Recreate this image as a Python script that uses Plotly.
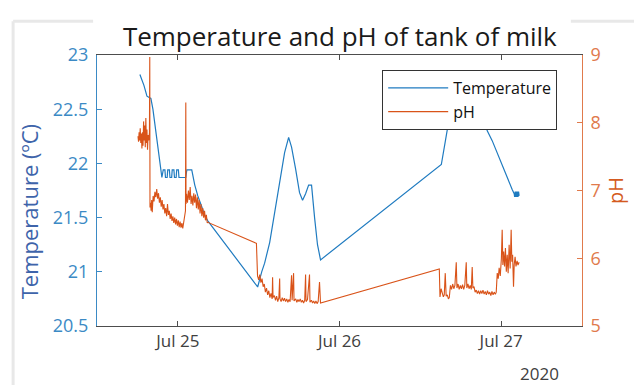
import plotly.graph_objects as go

# ---------------- data ----------------
temp_time = [
    "2020-07-24 18:22", "2020-07-24 18:58", "2020-07-24 19:25", "2020-07-24 20:00",
    "2020-07-24 20:18", "2020-07-24 20:44", "2020-07-24 21:11", "2020-07-24 21:38",
    "2020-07-24 21:50", "2020-07-24 22:05", "2020-07-24 22:10", "2020-07-24 22:25",
    "2020-07-24 22:30", "2020-07-24 22:45", "2020-07-24 22:50", "2020-07-24 23:05",
    "2020-07-24 23:10", "2020-07-24 23:25", "2020-07-24 23:30", "2020-07-24 23:45",
    "2020-07-24 23:50", "2020-07-25 00:05", "2020-07-25 00:10", "2020-07-25 01:11",
    "2020-07-25 01:20", "2020-07-25 02:04", "2020-07-25 02:31", "2020-07-25 02:58",
    "2020-07-25 03:33", "2020-07-25 04:00", "2020-07-25 04:27", "2020-07-25 11:51",
    "2020-07-25 12:27", "2020-07-25 12:53", "2020-07-25 13:38", "2020-07-25 14:22",
    "2020-07-25 15:07", "2020-07-25 15:51", "2020-07-25 16:27", "2020-07-25 16:53",
    "2020-07-25 17:29", "2020-07-25 18:04", "2020-07-25 18:31", "2020-07-25 18:58",
    "2020-07-25 19:25", "2020-07-25 19:51", "2020-07-25 20:18", "2020-07-25 20:44",
    "2020-07-25 21:11", "2020-07-26 15:07", "2020-07-26 15:42", "2020-07-26 16:18",
    "2020-07-26 17:11", "2020-07-26 18:31", "2020-07-26 20:00", "2020-07-26 21:20",
    "2020-07-26 21:56", "2020-07-26 22:40", "2020-07-26 23:42", "2020-07-27 00:27",
    "2020-07-27 01:11", "2020-07-27 01:38", "2020-07-27 01:56", "2020-07-27 02:00",
    "2020-07-27 02:05", "2020-07-27 02:10", "2020-07-27 02:15", "2020-07-27 02:20",
    "2020-07-27 02:25", "2020-07-27 02:30", "2020-07-27 02:35", "2020-07-27 02:40",
]
temp_val = [
    22.82, 22.72, 22.62, 22.60,
    22.50, 22.30, 22.05, 21.87,
    21.94, 21.94, 21.87, 21.87,
    21.94, 21.94, 21.87, 21.87,
    21.94, 21.94, 21.87, 21.87,
    21.94, 21.94, 21.87, 21.87,
    21.94, 21.94, 21.80, 21.70,
    21.60, 21.52, 21.47, 20.86,
    21.00, 21.08, 21.27, 21.55,
    21.85, 22.10, 22.24, 22.15,
    21.95, 21.73, 21.66, 21.72,
    21.80, 21.80, 21.50, 21.25,
    21.11, 21.99, 22.20, 22.42,
    22.62, 22.75, 22.70, 22.42,
    22.30, 22.21, 22.05, 21.93,
    21.82, 21.76, 21.72, 21.69,
    21.74, 21.69, 21.74, 21.69,
    21.74, 21.69, 21.74, 21.70,
]

ph_time = [
    # Jul 24 evening
    "2020-07-24 18:05", "2020-07-24 18:10", "2020-07-24 18:15", "2020-07-24 18:20",
    "2020-07-24 18:25", "2020-07-24 18:30", "2020-07-24 18:35", "2020-07-24 18:40",
    "2020-07-24 18:45", "2020-07-24 18:50", "2020-07-24 18:55", "2020-07-24 19:00",
    "2020-07-24 19:05", "2020-07-24 19:10", "2020-07-24 19:15", "2020-07-24 19:20",
    "2020-07-24 19:25", "2020-07-24 19:30", "2020-07-24 19:35", "2020-07-24 19:40",
    "2020-07-24 19:47", "2020-07-24 19:50", "2020-07-24 19:52",
    "2020-07-24 19:57", "2020-07-24 20:02", "2020-07-24 20:07", "2020-07-24 20:12",
    "2020-07-24 20:20", "2020-07-24 20:28", "2020-07-24 20:36", "2020-07-24 20:44",
    "2020-07-24 20:52", "2020-07-24 21:00", "2020-07-24 21:08", "2020-07-24 21:16",
    "2020-07-24 21:24", "2020-07-24 21:32", "2020-07-24 21:40", "2020-07-24 21:48",
    "2020-07-24 21:56", "2020-07-24 22:04", "2020-07-24 22:12", "2020-07-24 22:20",
    "2020-07-24 22:28", "2020-07-24 22:36", "2020-07-24 22:44", "2020-07-24 22:52",
    "2020-07-24 23:00", "2020-07-24 23:08", "2020-07-24 23:16", "2020-07-24 23:24",
    "2020-07-24 23:32", "2020-07-24 23:40", "2020-07-24 23:48", "2020-07-24 23:56",
    "2020-07-25 00:04", "2020-07-25 00:12", "2020-07-25 00:20", "2020-07-25 00:28",
    "2020-07-25 00:36", "2020-07-25 00:44", "2020-07-25 00:52", "2020-07-25 01:00",
    "2020-07-25 01:08", "2020-07-25 01:11", "2020-07-25 01:13",
    # Jul 25 early morning
    "2020-07-25 01:18", "2020-07-25 01:26", "2020-07-25 01:34", "2020-07-25 01:42",
    "2020-07-25 01:50", "2020-07-25 01:58", "2020-07-25 02:06", "2020-07-25 02:14",
    "2020-07-25 02:22", "2020-07-25 02:30", "2020-07-25 02:38", "2020-07-25 02:46",
    "2020-07-25 02:54", "2020-07-25 03:02", "2020-07-25 03:10", "2020-07-25 03:18",
    "2020-07-25 03:26", "2020-07-25 03:34", "2020-07-25 03:42", "2020-07-25 03:50",
    "2020-07-25 03:58", "2020-07-25 04:06", "2020-07-25 04:14", "2020-07-25 04:22",
    "2020-07-25 04:27",
    # Jul 25 midday to evening
    "2020-07-25 11:40", "2020-07-25 11:45",
    "2020-07-25 11:50", "2020-07-25 12:00", "2020-07-25 12:10", "2020-07-25 12:20",
    "2020-07-25 12:30", "2020-07-25 12:40", "2020-07-25 12:50", "2020-07-25 13:00",
    "2020-07-25 13:10", "2020-07-25 13:20", "2020-07-25 13:30", "2020-07-25 13:40",
    "2020-07-25 13:50", "2020-07-25 14:00", "2020-07-25 14:04", "2020-07-25 14:08",
    "2020-07-25 14:20", "2020-07-25 14:30", "2020-07-25 14:40", "2020-07-25 14:50",
    "2020-07-25 15:00", "2020-07-25 15:07", "2020-07-25 15:10", "2020-07-25 15:20",
    "2020-07-25 15:30", "2020-07-25 15:40", "2020-07-25 15:50", "2020-07-25 16:00",
    "2020-07-25 16:10", "2020-07-25 16:20", "2020-07-25 16:30", "2020-07-25 16:40",
    "2020-07-25 16:53", "2020-07-25 16:58", "2020-07-25 17:11", "2020-07-25 17:15",
    "2020-07-25 17:30", "2020-07-25 17:40", "2020-07-25 17:50", "2020-07-25 18:00",
    "2020-07-25 18:10", "2020-07-25 18:20", "2020-07-25 18:30", "2020-07-25 18:40",
    "2020-07-25 18:50", "2020-07-25 18:58", "2020-07-25 19:02", "2020-07-25 19:15",
    "2020-07-25 19:33", "2020-07-25 19:37", "2020-07-25 19:50", "2020-07-25 20:00",
    "2020-07-25 20:10", "2020-07-25 20:20", "2020-07-25 20:30", "2020-07-25 20:40",
    "2020-07-25 20:50", "2020-07-25 21:02", "2020-07-25 21:06", "2020-07-25 21:11",
    # Jul 26 afternoon to Jul 27
    "2020-07-26 14:49", "2020-07-26 14:55",
    "2020-07-26 15:05", "2020-07-26 15:16", "2020-07-26 15:25", "2020-07-26 15:33",
    "2020-07-26 15:42", "2020-07-26 15:50", "2020-07-26 16:00", "2020-07-26 16:10",
    "2020-07-26 16:18", "2020-07-26 16:28", "2020-07-26 16:38", "2020-07-26 16:48",
    "2020-07-26 16:58", "2020-07-26 17:08", "2020-07-26 17:20", "2020-07-26 17:26",
    "2020-07-26 17:36", "2020-07-26 17:46", "2020-07-26 17:56", "2020-07-26 18:06",
    "2020-07-26 18:16", "2020-07-26 18:26", "2020-07-26 18:36", "2020-07-26 18:49",
    "2020-07-26 18:54", "2020-07-26 19:04", "2020-07-26 19:14", "2020-07-26 19:24",
    "2020-07-26 19:34", "2020-07-26 19:42", "2020-07-26 19:48", "2020-07-26 19:58",
    "2020-07-26 20:08", "2020-07-26 20:18", "2020-07-26 20:28", "2020-07-26 20:38",
    "2020-07-26 20:48", "2020-07-26 20:58", "2020-07-26 21:08", "2020-07-26 21:18",
    "2020-07-26 21:28", "2020-07-26 21:38", "2020-07-26 21:48", "2020-07-26 21:58",
    "2020-07-26 22:08", "2020-07-26 22:18", "2020-07-26 22:28", "2020-07-26 22:38",
    "2020-07-26 22:48", "2020-07-26 22:58", "2020-07-26 23:08", "2020-07-26 23:16",
    "2020-07-26 23:25", "2020-07-26 23:34", "2020-07-26 23:42", "2020-07-26 23:52",
    "2020-07-27 00:02", "2020-07-27 00:09", "2020-07-27 00:15", "2020-07-27 00:22",
    "2020-07-27 00:30", "2020-07-27 00:38", "2020-07-27 00:46", "2020-07-27 00:54",
    "2020-07-27 01:02", "2020-07-27 01:11", "2020-07-27 01:20", "2020-07-27 01:29",
    "2020-07-27 01:35", "2020-07-27 01:42", "2020-07-27 01:50", "2020-07-27 01:56",
    "2020-07-27 02:04", "2020-07-27 02:12", "2020-07-27 02:22", "2020-07-27 02:30",
    "2020-07-27 02:40",
]
ph_val = [
    7.80, 7.72, 7.86, 7.74,
    7.92, 7.70, 7.84, 7.62,
    7.86, 7.66, 8.02, 7.74,
    7.96, 7.64, 8.07, 7.70,
    7.90, 7.60, 7.82, 7.74,
    7.85, 8.97, 6.75,
    6.82, 6.70, 6.86, 6.68,
    6.92, 6.84, 6.98, 6.90,
    7.02, 6.88, 6.96, 6.82,
    6.90, 6.76, 6.86, 6.72,
    6.80, 6.66, 6.74, 6.62,
    6.80, 6.64, 6.70, 6.58,
    6.66, 6.55, 6.62, 6.52,
    6.60, 6.50, 6.58, 6.48,
    6.56, 6.46, 6.54, 6.45,
    6.52, 6.44, 6.55, 6.62,
    6.70, 8.30, 6.80,
    6.95, 6.82, 7.00, 6.86,
    7.05, 6.80, 6.92, 6.78,
    6.96, 6.82, 6.94, 6.74,
    6.90, 6.72, 6.86, 6.66,
    6.80, 6.62, 6.74, 6.60,
    6.70, 6.56, 6.64, 6.52,
    6.53,
    6.22, 5.80,
    5.74, 5.68, 5.76, 5.64,
    5.70, 5.58, 5.62, 5.50,
    5.56, 5.46, 5.52, 5.42,
    5.48, 5.40, 5.72, 5.42,
    5.45, 5.38, 5.44, 5.36,
    5.42, 5.70, 5.40, 5.36,
    5.42, 5.37, 5.41, 5.36,
    5.40, 5.35, 5.39, 5.36,
    5.75, 5.38, 5.78, 5.37,
    5.40, 5.35, 5.39, 5.36,
    5.40, 5.35, 5.38, 5.34,
    5.38, 5.76, 5.36, 5.39,
    5.76, 5.35, 5.38, 5.34,
    5.37, 5.33, 5.37, 5.33,
    5.36, 5.65, 5.35, 5.34,
    5.84, 5.43,
    5.55, 5.50, 5.43, 5.46,
    5.78, 5.44, 5.46, 5.40,
    5.42, 5.60, 5.54, 5.62,
    5.55, 5.60, 5.94, 5.56,
    5.62, 5.54, 5.60, 5.55,
    5.61, 5.54, 5.60, 5.94,
    5.56, 5.62, 5.55, 5.60,
    5.54, 5.87, 5.56, 5.58,
    5.50, 5.53, 5.48, 5.52,
    5.47, 5.52, 5.48, 5.53,
    5.47, 5.51, 5.46, 5.52,
    5.47, 5.50, 5.45, 5.51,
    5.46, 5.50, 5.47, 5.50,
    5.78, 5.70, 5.86, 5.74,
    6.00, 6.42, 5.90, 6.10,
    5.88, 6.15, 5.80, 6.05,
    5.78, 6.20, 5.85, 6.42,
    5.95, 6.05, 5.58, 5.90,
    6.02, 5.88, 5.96, 5.90,
    5.94,
]

x_tick_vals = ["2020-07-25", "2020-07-26", "2020-07-27"]
x_tick_text = ["Jul 25", "Jul 26", "Jul 27"]
x_range = ["2020-07-24 12:00", "2020-07-27 12:00"]
temp_range = [20.5, 23]
ph_range = [5, 9]

# ---------------- styles ----------------
FONT = "Open Sans"
BLUE = "#1f7bc0"
BLUE_AX = "#3b8ac5"
ORANGE = "#D95319"
ORANGE_AX = "#e07a4c"
GREY = "#404040"

fig = go.Figure()
fig.add_trace(go.Scatter(x=temp_time, y=temp_val, name="Temperature", mode="lines",
                         line=dict(color=BLUE, width=1.2), yaxis="y"))
fig.add_trace(go.Scatter(x=ph_time, y=ph_val, name="pH", mode="lines",
                         line=dict(color=ORANGE, width=1.1), yaxis="y2"))

fig.update_layout(
    width=634, height=385,
    margin=dict(l=97, r=52, t=55, b=59),
    paper_bgcolor="white", plot_bgcolor="white",
    font=dict(family=FONT, color=GREY),
    title=dict(text="Temperature and pH of tank of milk", x=0.536, y=0.903,
               xanchor="center", yanchor="middle", xref="container", yref="container",
               font=dict(family=FONT, size=26, color="#1a1a1a")),
    xaxis=dict(type="date", range=x_range, tickvals=x_tick_vals, ticktext=x_tick_text,
               showgrid=False, zeroline=False, showline=True, linecolor="#4d4d4d",
               linewidth=1, mirror="ticks", ticks="inside", ticklen=5, tickcolor="#4d4d4d",
               tickfont=dict(size=17, color=GREY, family=FONT)),
    yaxis=dict(range=temp_range, dtick=0.5, showgrid=False, zeroline=False,
               showline=True, linecolor=BLUE_AX, linewidth=1, ticks="inside", ticklen=5,
               tickcolor=BLUE_AX, tickfont=dict(size=18, color=BLUE_AX, family=FONT),
               ticklabelstandoff=4),
    yaxis2=dict(range=ph_range, dtick=1, overlaying="y", side="right", showgrid=False,
                zeroline=False, showline=True, linecolor=ORANGE_AX, linewidth=1,
                ticks="inside", ticklen=5, tickcolor=ORANGE_AX,
                tickfont=dict(size=18, color=ORANGE_AX, family=FONT), ticklabelstandoff=4),
    legend=dict(x=0.588, y=0.945, xanchor="left", yanchor="top", bgcolor="white",
                bordercolor="#333333", borderwidth=1, itemwidth=60,
                font=dict(size=16, color="#111111", family=FONT),
                tracegroupgap=0),
    showlegend=True,
)

fig.add_annotation(text="Temperature (ºC)", xref="paper", yref="paper", x=-0.14, y=0.42,
                   textangle=-90, showarrow=False, xanchor="center", yanchor="middle",
                   font=dict(size=22, color="#3e64aa", family=FONT))
fig.add_annotation(text="pH", xref="paper", yref="paper", x=1.07, y=0.502,
                   textangle=-90, showarrow=False, xanchor="center", yanchor="middle",
                   font=dict(size=20, color="#d45a20", family=FONT))
fig.add_annotation(text="2020", xref="paper", yref="paper", x=0.913, y=-0.177,
                   showarrow=False, xanchor="center", yanchor="middle",
                   font=dict(size=17, color=GREY, family=FONT))

# faint screenshot frame
fig.add_shape(type="line", xref="paper", yref="paper", x0=-0.173, x1=-0.173, y0=1.125, y1=-0.22,
              line=dict(color="#e8e8e8", width=3))
fig.add_shape(type="line", xref="paper", yref="paper", x0=-0.173, x1=-0.008, y0=1.125, y1=1.125,
              line=dict(color="#e8e8e8", width=3))
fig.add_shape(type="line", xref="paper", yref="paper", x0=0.977, x1=1.11, y0=1.125, y1=1.125,
              line=dict(color="#e8e8e8", width=3))

fig.write_html("out.html", config={"displayModeBar": False},
               post_script="document.body.style.margin='0';"
               "document.body.style.overflow='hidden';")
